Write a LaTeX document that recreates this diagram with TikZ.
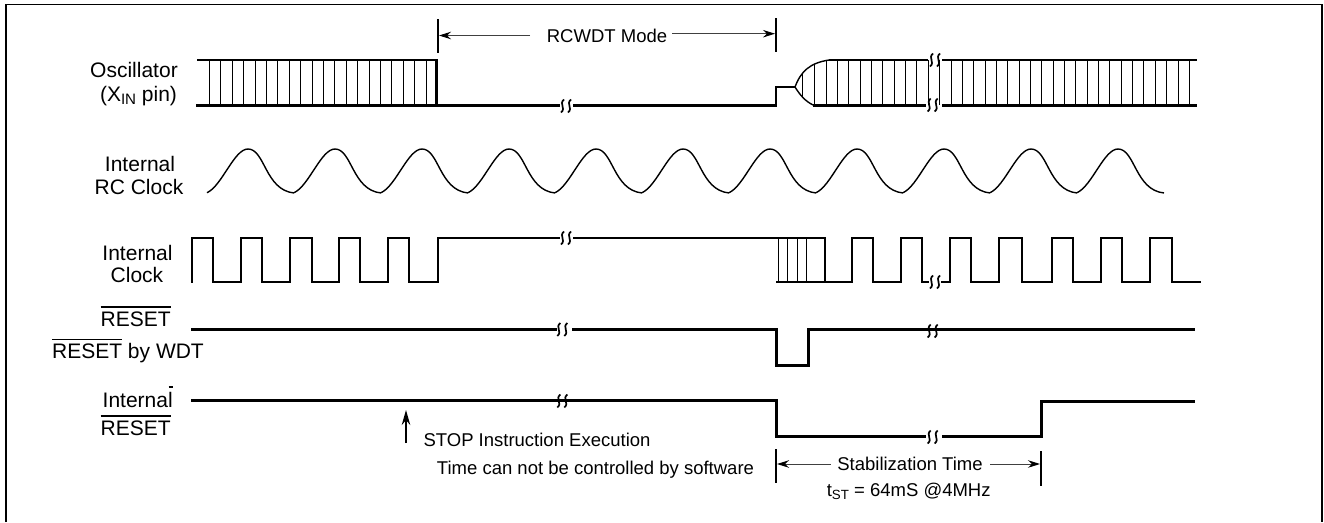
\documentclass[tikz,border=0pt]{standalone}
\usepackage{fontspec}
\setmainfont{Liberation Sans}
\usepackage{tikz}
\usetikzlibrary{arrows.meta}

\newcommand{\ovl}[1]{\vbox{\hrule height 1.6pt \kern 3.4pt \hbox{#1}}}
\newcommand{\lowsub}[1]{\raisebox{-.17em}{\scalebox{.72}{#1}}}
\newcommand{\brkmark}[2]{%
	\foreach \d in {-3.5,3.5}
	\draw[brk] ({#1+\d+1.5},{#2-6.5}) .. controls ({#1+\d-4},{#2-2}) and ({#1+\d+4},{#2+2}) .. ({#1+\d-1.5},{#2+6.5});
}

\begin{document}
\begin{tikzpicture}[
			x=1pt,y=-1pt,
			lbl/.style={anchor=base,inner sep=0pt,font=\fontsize{21}{24}\selectfont},
			note/.style={anchor=base,inner sep=0pt,font=\fontsize{18.5}{22}\selectfont},
			frameline/.style={line width=1.6pt},
			thick line/.style={line width=3pt},
			rail/.style={line width=2.3pt},
			clk/.style={line width=2.1pt,line cap=rect},
			hatch/.style={line width=1pt},
			wave/.style={line width=1.4pt},
			tick/.style={line width=2pt},
			dim/.style={line width=1pt,black!75,-{Stealth[length=12pt,width=7.5pt,black]}},
			brk/.style={line width=1.7pt},
			>=Stealth
			]
			\useasboundingbox (0,0) rectangle (1324,522);
			
			\draw[frameline] (6,522)--(6,4.5)--(1322,4.5)--(1322,522);
			
			% labels
			\node[lbl] (osc) at (134,77.3) {Oscillator};
			\node[lbl] (xin) at (138.5,101) {(X\lowsub{IN} pin)};
			\node[lbl] (rcint) at (140,171.7) {Internal};
			\node[lbl] (rcclk) at (139,194) {RC Clock};
			\node[lbl] (clkint) at (137.5,260.5) {Internal};
			\node[lbl] (clkclk) at (137,282.7) {Clock};
			\node[lbl] (rst) at (135.7,326) {\ovl{RESET}};
			\node[lbl] (rstwdt) at (128,358.3) {\ovl{RESET} by WDT};
			\node[lbl] (irint) at (137.7,407.3) {Internal};
			\node[lbl] (irrst) at (135.7,435) {\ovl{RESET}};
			\coordinate (glitchl) at (168.5,387);
			\coordinate (glitchr) at (173,387);
			\draw[line width=1.5pt] (glitchl)--(glitchr);
			
			% oscillator
			\draw[rail] (197,60)--(436.5,60)--(436.5,105);
			\draw[thick line] (196,105)--(560,105);
			\draw[thick line] (573,105)--(777,105);
			\draw[rail] (776,105)--(776,87)--(795,87);
			\draw[wave] (795,87) .. controls (801,71) and (810,63) .. (829,60);
			\draw[wave] (795,87) .. controls (800,95) and (805,101) .. (813,105);
			\draw[rail] (829,60)--(928,60);
			\draw[rail] (942,60)--(1197,60);
			\draw[thick line] (813,105)--(926,105);
			\draw[thick line] (942,105)--(1197,105);
			\foreach \i in {0,...,19}
			\draw[hatch] ({round(209+\i*11.4)+.5},60)--({round(209+\i*11.4)+.5},105);
			\draw[hatch] (802.5,73)--(802.5,97);
			\draw[hatch] (814.5,65)--(814.5,105);
			\foreach \i in {1,...,33}
			\draw[hatch] ({round(814.3+\i*11.35)+.5},60)--({round(814.3+\i*11.35)+.5},105);
			\brkmark{566}{106}
			\brkmark{935}{60}
			\brkmark{932.7}{105}
			
			% rc clock
			\foreach \i in {0,...,10}
			\draw[wave] ({207+\i*87},192.7) .. controls ({207+\i*87+15},186) and ({207+\i*87+27},149) .. ({207+\i*87+41},149)
			.. controls ({207+\i*87+58},149) and ({207+\i*87+58},190) .. ({207+\i*87+87},193);
			
			% internal clock
			\foreach \a/\b/\c in {192/213/241,241/262/290,290/312/339,339/360/388,388/409/438,852/873/901,950/971/999,999/1022/1052,1052/1073/1101,1101/1122/1150,1150/1172/1200}
			\draw[clk] (\a,282)--(\a,238)--(\b,238)--(\b,282)--(\c,282);
			\draw[clk] (438,282)--(438,238)--(559,238);
			\draw[clk] (574,238)--(825,238)--(825,282)--(852,282);
			\draw[clk] (777,282)--(825,282);
			\draw[clk] (901,282)--(901,238)--(922,238)--(922,282)--(928,282);
			\draw[clk] (942,282)--(950,282);
			\foreach \x in {778.5,787.5,797.5,806.5}
			\draw[hatch] (\x,238)--(\x,282);
			\brkmark{566}{238}
			\brkmark{935}{282}
			
			% reset
			\draw[thick line] (191,329.5)--(557,329.5);
			\draw[thick line] (572,329.5)--(776,329.5)--(776,365)--(808,365)--(808,329.5)--(1195,329.5);
			\brkmark{562.3}{329.5}
			\brkmark{932.7}{331}
			
			% internal reset
			\draw[thick line] (191,400.5)--(776,400.5)--(776,436)--(926,436);
			\draw[thick line] (942,436)--(1041,436)--(1041,401.5)--(1195,401.5);
			\brkmark{562.3}{401}
			\brkmark{932.7}{437}
			
			% rcwdt mode
			\node[note] (mode) at (607,42.7) {RCWDT Mode};
			\coordinate (modetl) at (438,19);
			\coordinate (modebl) at (438,53);
			\coordinate (modetr) at (776,18);
			\coordinate (modebr) at (776,52);
			\coordinate (modeal) at (530,35.5);
			\coordinate (modetipl) at (439,35.5);
			\coordinate (modear) at (672,33.7);
			\coordinate (modetipr) at (775,33.7);
			\draw[tick] (modetl)--(modebl);
			\draw[tick] (modetr)--(modebr);
			\draw[dim] (modeal)--(modetipl);
			\draw[dim] (modear)--(modetipr);
			
			% stop
			\node[note] (stop) at (537,446) {STOP Instruction Execution};
			\node[note] (soft) at (595.5,474) {Time can not be controlled by software};
			\coordinate (stopa) at (406,443);
			\coordinate (stopb) at (406,410);
			\draw[line width=1.6pt,-{Stealth[length=15pt,width=8.5pt]}] (stopa)--(stopb);
			
			% stabilization
			\node[note] (stab) at (910,470) {Stabilization Time};
			\node[note] (tst) at (908.7,496) {t\lowsub{ST} = 64mS @4MHz};
			\coordinate (stabtl) at (776,449);
			\coordinate (stabbl) at (776,483);
			\coordinate (stabtr) at (1041,451);
			\coordinate (stabbr) at (1041,486);
			\coordinate (stabal) at (830.7,464);
			\coordinate (stabtipl) at (777,464);
			\coordinate (stabar) at (990,464);
			\coordinate (stabtipr) at (1040,464);
			\draw[tick] (stabtl)--(stabbl);
			\draw[tick] (stabtr)--(stabbr);
			\draw[dim] (stabal)--(stabtipl);
			\draw[dim] (stabar)--(stabtipr);
			
		\end{tikzpicture}
\end{document}
